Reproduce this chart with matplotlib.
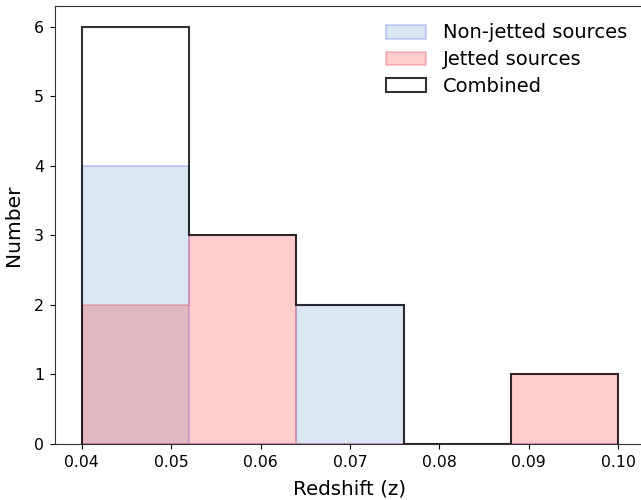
import numpy as np
import matplotlib
matplotlib.use('Agg')
import matplotlib.pyplot as plt

plt.rcParams['font.family'] = ['DejaVu Sans']

# redshift bins and counts per sample
bin_edges = [0.040, 0.052, 0.064, 0.076, 0.088, 0.100]
non_jetted = [4, 0, 2, 0, 0]
jetted = [2, 3, 0, 0, 1]
combined = [n + j for n, j in zip(non_jetted, jetted)]

centres = [(a + b) / 2 for a, b in zip(bin_edges[:-1], bin_edges[1:])]

fig = plt.figure(figsize=(6.41, 5.0), dpi=100)
ax = fig.add_axes([55 / 641, 56 / 500, 590 / 641, 438 / 500])

ax.hist(centres, bins=bin_edges, weights=non_jetted, histtype='stepfilled',
        facecolor=(70/255, 130/255, 180/255, 0.2), edgecolor=(0, 0, 1, 0.2),
        linewidth=1.2, label='Non-jetted sources')
ax.hist(centres, bins=bin_edges, weights=jetted, histtype='stepfilled',
        facecolor=(1, 0, 0, 0.2), edgecolor=(0.9, 0.2, 0.3, 0.3),
        linewidth=1.2, label='Jetted sources')
ax.hist(centres, bins=bin_edges, weights=combined, histtype='step',
        color='black', alpha=0.8, linewidth=1.5, label='Combined')

ax.set_ylim(0, 6.3)
ax.set_xticks([0.04, 0.05, 0.06, 0.07, 0.08, 0.09, 0.10])
ax.set_xticklabels(['0.04', '0.05', '0.06', '0.07', '0.08', '0.09', '0.10'])
ax.tick_params(labelsize=11.3, pad=4.5)
ax.set_xlabel('Redshift (z)', fontsize=14.3, labelpad=7)
ax.set_ylabel('Number', fontsize=14.5, labelpad=8)
for s in ax.spines.values():
    s.set_color('#333333')

ax.legend(loc='upper right', frameon=False, fontsize=14,
          handlelength=2.05, handletextpad=0.9, labelspacing=0.4,
          borderaxespad=0.5)

fig.savefig('out.png', dpi=100)
